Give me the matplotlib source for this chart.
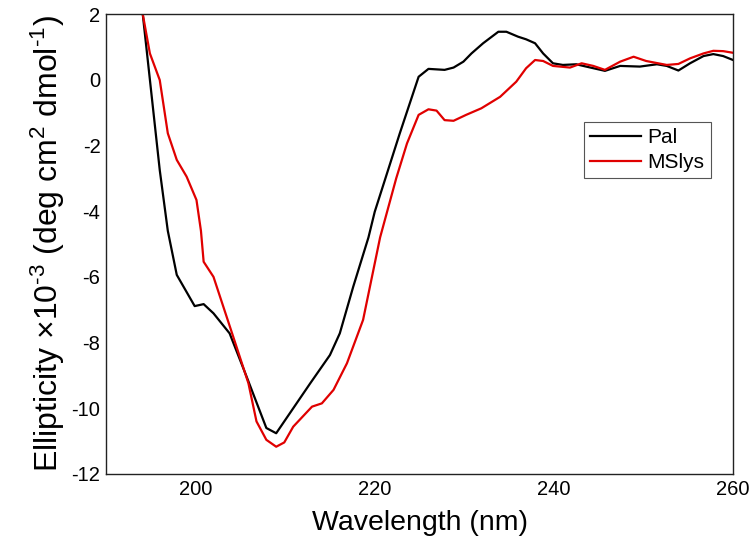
import matplotlib
matplotlib.use("Agg")
import matplotlib.pyplot as plt

plt.rcParams['font.family'] = ['Liberation Sans', 'DejaVu Sans']
plt.rcParams['axes.unicode_minus'] = False
plt.rcParams['mathtext.fontset'] = 'custom'
plt.rcParams['mathtext.rm'] = 'Liberation Sans'
plt.rcParams['mathtext.it'] = 'Liberation Sans'
plt.rcParams['mathtext.default'] = 'regular'

# Pal (black)
pal_wl = [193.6, 194.1, 196.0, 196.9, 197.9, 199.9, 200.9, 202.0, 203.8, 205.7, 207.9, 209.0,
          210.9, 212.8, 215.0, 216.1, 217.6, 219.3, 220.0, 222.8, 224.9, 226.0, 227.8, 228.8,
          229.9, 230.8, 232.1, 233.8, 234.7, 236.0, 236.9, 237.9, 238.8, 239.9, 241.0, 242.5,
          243.6, 245.7, 247.4, 249.6, 251.5, 252.6, 253.9, 255.2, 256.7, 257.8, 258.9, 260.0]
pal_val = [3.0, 2.0, -2.75, -4.6, -5.94, -6.89, -6.83, -7.11, -7.72, -9.04, -10.6, -10.76,
           -10.0, -9.24, -8.38, -7.72, -6.3, -4.8, -4.02, -1.63, 0.09, 0.33, 0.30, 0.37,
           0.55, 0.80, 1.11, 1.46, 1.46, 1.31, 1.23, 1.11, 0.80, 0.50, 0.45, 0.47,
           0.40, 0.27, 0.42, 0.40, 0.47, 0.42, 0.28, 0.50, 0.72, 0.78, 0.72, 0.60]

# MSlys (red)
ms_wl = [193.6, 194.1, 194.9, 196.0, 196.9, 197.9, 199.0, 200.1, 200.6, 200.9, 202.0, 204.2,
         205.9, 206.8, 207.9, 209.0, 209.9, 210.9, 213.0, 214.1, 215.4, 216.9, 218.7, 220.6,
         222.4, 223.6, 224.9, 226.0, 226.9, 227.8, 228.8, 230.2, 231.9, 234.0, 235.8, 236.9,
         237.9, 238.8, 239.9, 241.8, 243.1, 244.4, 245.7, 247.4, 248.9, 250.3, 252.6, 253.9,
         255.2, 256.7, 257.8, 258.9, 260.0]
ms_val = [3.0, 2.0, 0.80, -0.01, -1.63, -2.44, -2.95, -3.66, -4.6, -5.54, -6.0, -7.82,
          -9.24, -10.4, -10.96, -11.17, -11.04, -10.56, -9.95, -9.85, -9.44, -8.63, -7.31, -4.8,
          -3.0, -1.94, -1.07, -0.90, -0.94, -1.23, -1.25, -1.07, -0.87, -0.52, -0.06, 0.35,
          0.60, 0.57, 0.42, 0.37, 0.50, 0.42, 0.30, 0.55, 0.70, 0.57, 0.45, 0.48,
          0.65, 0.80, 0.88, 0.87, 0.82]

x_ticks = [200, 220, 240, 260]
y_ticks = [2, 0, -2, -4, -6, -8, -10, -12]

fig = plt.figure(figsize=(7.55, 5.56), dpi=100)
ax = fig.add_axes([0.1404, 0.1475, 0.8305, 0.8273])

ax.plot(pal_wl, pal_val, color='black', lw=1.6, label='Pal')
ax.plot(ms_wl, ms_val, color='#e00000', lw=1.6, label='MSlys')

ax.set_xlim(190, 260)
ax.set_ylim(-12, 2)
ax.set_xticks(x_ticks)
ax.set_yticks(y_ticks)
ax.tick_params(length=0, labelsize=14.5, pad=4)
for s in ax.spines.values():
    s.set_linewidth(1.0)
    s.set_color('#222222')

ax.set_xlabel('Wavelength (nm)', fontsize=20.5, labelpad=8)
ax.set_ylabel('Ellipticity \u00d710$^{\\text{-}3}$ (deg cm$^{2}$ dmol$^{\\text{-}1}$)',
              fontsize=23, labelpad=3)

leg = ax.legend(loc='upper left', bbox_to_anchor=(0.762, 0.765), fontsize=15,
                frameon=True, fancybox=False, framealpha=1, edgecolor='#555555',
                handlelength=2.45, handletextpad=0.3, borderpad=0.3, labelspacing=0.25,
                borderaxespad=0, handleheight=0.6)
leg.get_frame().set_linewidth(0.8)

fig.savefig('out.png', dpi=100)
